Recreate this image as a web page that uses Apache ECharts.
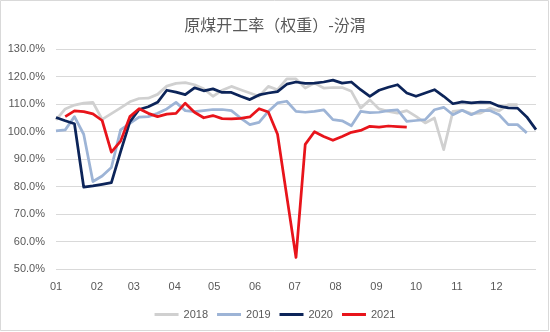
<!DOCTYPE html>
<html>
<head>
<meta charset="utf-8">
<script src="https://cdn.jsdelivr.net/npm/echarts@6/dist/echarts.min.js"></script>
<style>
  html, body { margin: 0; padding: 0; background: #fff; }
  #chart { width: 550px; height: 332px; }
</style>
</head>
<body>
<div id="chart"></div>
<script>
// Weekly coal operating rate (weighted), Fenwei, by year.
// Each value is one week; week n sits at day n*7 of the year.
const monthLabels = ['01', '02', '03', '04', '05', '06', '07', '08', '09', '10', '11', '12'];
const monthStartDays = [0, 31, 59, 90, 120, 151, 181, 212, 243, 273, 304, 334];
const yearNames = ['2018', '2019', '2020', '2021'];

const rate2018 = [104.2, 108.2, 109.6, 110.3, 110.6, 104.4, 106.5, 108.6, 110.8, 112.0,
  112.1, 113.5, 116.5, 117.5, 117.8, 117.0, 115.5, 112.8, 115.0, 116.4,
  115.2, 114.0, 112.8, 116.4, 115.2, 119.1, 119.1, 115.8, 117.6, 115.8,
  116.0, 116.0, 114.6, 108.5, 111.5, 108.2, 107.3, 106.7, 107.6, 105.5,
  103.1, 104.9, 93.4, 107.3, 107.7, 106.5, 106.7, 108.5, 107.5, 109.8, 109.8];

const rate2019 = [100.2, 100.6, 105.4, 99.0, 81.8, 83.8, 86.9, 100.6, 103.0, 105.2,
  105.4, 106.6, 108.2, 110.6, 107.6, 107.2, 107.6, 108.0, 108.0, 107.6,
  104.9, 102.5, 103.3, 107.3, 110.4, 111.0, 107.3, 107.0, 107.3, 107.9,
  104.3, 103.9, 102.1, 107.3, 106.9, 107.0, 107.6, 107.9, 103.7, 104.0,
  104.3, 107.9, 108.8, 106.1, 107.7, 106.1, 107.7, 107.6, 106.1, 102.5, 102.5, 99.5];

const rate2020 = [105.1, 103.9, 102.8, 79.8, 80.2, 80.8, 81.4, 92.7, 103.5, 108.0,
  109.0, 110.6, 115.0, 114.3, 113.4, 115.9, 114.8, 115.5, 114.2, 114.2,
  112.8, 111.6, 113.3, 114.0, 114.5, 117.2, 118.0, 117.5, 117.6, 118.0,
  118.7, 117.6, 118.0, 115.2, 112.8, 115.0, 116.1, 117.0, 114.0, 112.8,
  114.0, 115.2, 112.8, 110.1, 110.8, 110.4, 110.7, 110.6, 109.2, 108.6, 108.5, 105.3, 100.7];

// 2021 begins with the second week of the year
const firstWeek2021 = 1;
const rate2021 = [105.4, 107.5, 107.2, 106.4, 104.0, 92.5, 96.5, 105.4, 108.3,
  106.6, 105.4, 106.3, 106.6, 110.3, 107.0, 105.0, 105.8, 104.7, 104.6,
  104.8, 105.3, 108.3, 107.1, 99.0, 76.5, 54.2, 95.3, 99.9, 98.2,
  96.8, 98.2, 99.7, 100.4, 101.9, 101.6, 102.0, 101.8, 101.6];

const yearColors = ['#d0d0d0', '#9db4d6', '#0c2459', '#e8141b'];

function toPoints(values, startWeek) {
  return values.map((v, i) => [(startWeek + i) * 7, v]);
}

const seriesData = [
  toPoints(rate2018, 0),
  toPoints(rate2019, 0),
  toPoints(rate2020, 0),
  toPoints(rate2021, firstWeek2021)
];

const chart = echarts.init(document.getElementById('chart'), null, { renderer: 'canvas' });

const labelColor = '#595959';
const baseFont = '"Liberation Sans", Arial, sans-serif';

chart.setOption({
  animation: false,
  backgroundColor: '#ffffff',
  title: {
    text: '原煤开工率（权重）-汾渭',
    left: 'center',
    top: 12,
    textStyle: {
      fontFamily: '"Noto Sans CJK SC", sans-serif',
      fontSize: 16,
      fontWeight: 'normal',
      color: labelColor
    }
  },
  legend: {
    bottom: 7,
    left: 'center',
    icon: 'rect',
    itemWidth: 24,
    itemHeight: 3,
    itemGap: 9,
    data: yearNames,
    textStyle: { fontFamily: baseFont, fontSize: 11, color: labelColor }
  },
  grid: { left: 56, right: 14, top: 49, bottom: 63 },
  xAxis: {
    type: 'value',
    min: 0,
    max: 364,
    interval: 1,
    axisLine: { show: false },
    axisTick: { show: false },
    splitLine: { show: false },
    axisLabel: {
      margin: 12,
      fontFamily: baseFont,
      fontSize: 11,
      color: labelColor,
      showMinLabel: true,
      showMaxLabel: false,
      formatter: function (value) {
        const idx = monthStartDays.indexOf(value);
        return idx >= 0 ? monthLabels[idx] : '';
      }
    }
  },
  yAxis: {
    type: 'value',
    min: 50,
    max: 130,
    interval: 10,
    axisLine: { show: false },
    axisTick: { show: false },
    splitLine: { lineStyle: { color: '#d9d9d9', width: 1 } },
    axisLabel: {
      margin: 11,
      fontFamily: baseFont,
      fontSize: 11,
      color: labelColor,
      formatter: function (v) { return v.toFixed(1) + '%'; }
    }
  },
  series: yearNames.map((name, i) => ({
    name: name,
    type: 'line',
    data: seriesData[i],
    showSymbol: false,
    symbol: 'none',
    color: yearColors[i],
    lineStyle: { width: 2.75, color: yearColors[i], join: 'round' },
    z: 2 + i
  })),
  graphic: [{
    type: 'rect',
    shape: { x: 0.5, y: 0.5, width: 548, height: 330 },
    style: { fill: 'none', stroke: '#d9d9d9', lineWidth: 1 },
    silent: true
  }]
});
</script>
</body>
</html>
